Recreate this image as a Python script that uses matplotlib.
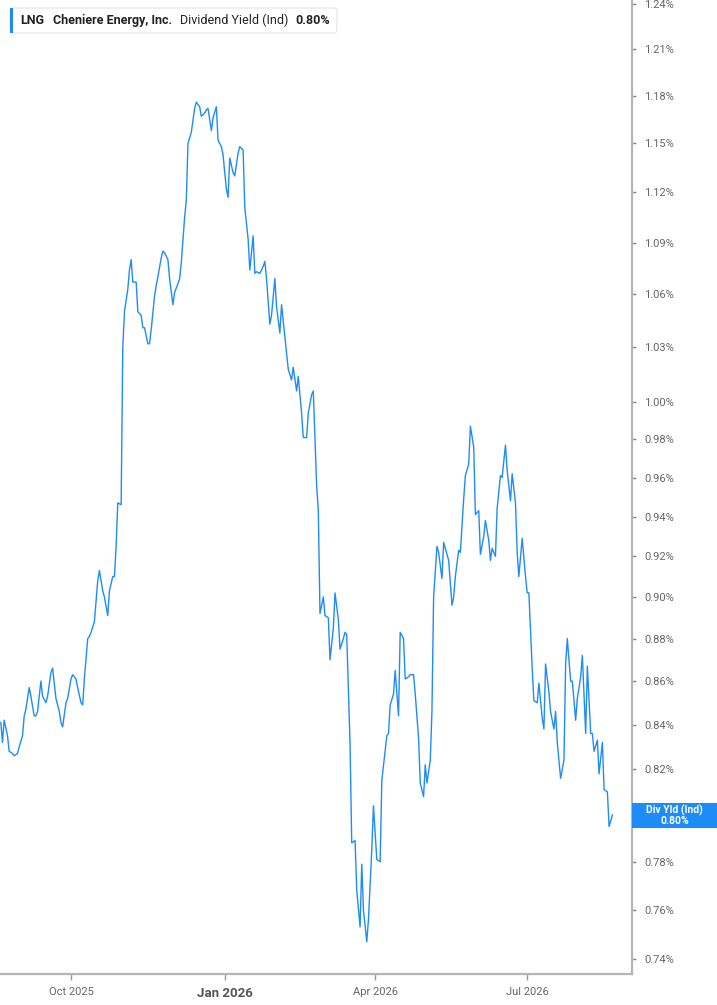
import matplotlib
matplotlib.use("Agg")
import matplotlib.pyplot as plt
from matplotlib.patches import Rectangle, FancyBboxPatch
from matplotlib.ticker import FixedLocator, NullLocator
import pandas as pd

plt.rcParams['font.family'] = ['Roboto', 'DejaVu Sans']

dates = [
 "2025-08-20","2025-08-21","2025-08-22","2025-08-24","2025-08-25","2025-08-27","2025-08-28","2025-08-30","2025-08-31",
 "2025-09-02","2025-09-03","2025-09-04","2025-09-06","2025-09-07","2025-09-09","2025-09-10","2025-09-11","2025-09-13",
 "2025-09-14","2025-09-16","2025-09-17","2025-09-19","2025-09-20","2025-09-22","2025-09-24","2025-09-25","2025-09-26",
 "2025-09-28","2025-09-29",
 "2025-10-01","2025-10-02","2025-10-04","2025-10-05","2025-10-07","2025-10-08","2025-10-09","2025-10-11","2025-10-12",
 "2025-10-13","2025-10-15","2025-10-17","2025-10-18","2025-10-20","2025-10-21","2025-10-23","2025-10-24","2025-10-26",
 "2025-10-27","2025-10-28","2025-10-29","2025-10-31",
 "2025-11-01","2025-11-02","2025-11-04","2025-11-05","2025-11-06","2025-11-07","2025-11-09","2025-11-10","2025-11-12",
 "2025-11-13","2025-11-14","2025-11-16","2025-11-17","2025-11-18","2025-11-20","2025-11-21","2025-11-22","2025-11-24",
 "2025-11-25","2025-11-26","2025-11-28","2025-11-29",
 "2025-12-01","2025-12-02","2025-12-04","2025-12-05","2025-12-06","2025-12-08","2025-12-09","2025-12-10","2025-12-12",
 "2025-12-14","2025-12-15","2025-12-17","2025-12-18","2025-12-20","2025-12-21","2025-12-22","2025-12-24","2025-12-25",
 "2025-12-27","2025-12-28","2025-12-30","2025-12-31",
 "2026-01-01","2026-01-02","2026-01-03","2026-01-04","2026-01-06","2026-01-07","2026-01-09","2026-01-10","2026-01-12",
 "2026-01-13","2026-01-15","2026-01-16","2026-01-18","2026-01-19","2026-01-20","2026-01-22","2026-01-24","2026-01-25",
 "2026-01-26","2026-01-28","2026-01-29","2026-01-31",
 "2026-02-01","2026-02-03","2026-02-04","2026-02-06","2026-02-08","2026-02-10","2026-02-11","2026-02-13","2026-02-14",
 "2026-02-16","2026-02-17","2026-02-19","2026-02-20","2026-02-22","2026-02-23","2026-02-24","2026-02-25","2026-02-26",
 "2026-02-27",
 "2026-03-01","2026-03-02","2026-03-04","2026-03-05","2026-03-07","2026-03-08","2026-03-10","2026-03-11","2026-03-13",
 "2026-03-14","2026-03-15","2026-03-17","2026-03-18","2026-03-20","2026-03-21","2026-03-23","2026-03-24","2026-03-25",
 "2026-03-27","2026-03-28","2026-03-30","2026-03-31",
 "2026-04-02","2026-04-04","2026-04-05","2026-04-08","2026-04-09","2026-04-10","2026-04-12","2026-04-13","2026-04-15",
 "2026-04-16","2026-04-18","2026-04-19","2026-04-21","2026-04-22","2026-04-24","2026-04-25","2026-04-27","2026-04-28",
 "2026-04-30",
 "2026-05-01","2026-05-02","2026-05-04","2026-05-05","2026-05-06","2026-05-08","2026-05-09","2026-05-11","2026-05-12",
 "2026-05-14","2026-05-15","2026-05-17","2026-05-18","2026-05-19","2026-05-21","2026-05-22","2026-05-24","2026-05-25",
 "2026-05-27","2026-05-28","2026-05-30","2026-05-31",
 "2026-06-02","2026-06-03","2026-06-05","2026-06-06","2026-06-08","2026-06-09","2026-06-10","2026-06-12","2026-06-13",
 "2026-06-15","2026-06-16","2026-06-18","2026-06-19","2026-06-21","2026-06-22","2026-06-24","2026-06-25","2026-06-26",
 "2026-06-28","2026-06-30",
 "2026-07-01","2026-07-02","2026-07-04","2026-07-05","2026-07-07","2026-07-08","2026-07-10","2026-07-11","2026-07-12",
 "2026-07-14","2026-07-15","2026-07-17","2026-07-18","2026-07-19","2026-07-21","2026-07-23","2026-07-24","2026-07-25",
 "2026-07-27","2026-07-28","2026-07-30","2026-07-31",
 "2026-08-02","2026-08-03","2026-08-05","2026-08-06","2026-08-08","2026-08-09","2026-08-10","2026-08-12","2026-08-13",
 "2026-08-15","2026-08-16","2026-08-18","2026-08-19","2026-08-21",
]

div_yield = [
 0.841,0.832,0.842,0.835,0.828,0.827,0.826,0.827,0.830,
 0.835,0.844,0.847,0.857,0.853,0.844,0.844,0.846,0.860,
 0.853,0.850,0.853,0.864,0.866,0.852,0.846,0.841,0.839,
 0.850,0.852,
 0.861,0.863,0.861,0.857,0.850,0.849,0.861,0.880,0.881,
 0.883,0.888,0.908,0.913,0.903,0.900,0.891,0.903,0.910,
 0.910,0.925,0.947,0.946,
 1.030,1.050,1.063,1.074,1.080,1.067,1.067,1.050,1.048,
 1.041,1.041,1.032,1.032,1.040,1.059,1.065,1.070,1.081,
 1.085,1.084,1.080,1.069,
 1.054,1.061,1.066,1.069,1.078,1.105,1.115,1.150,1.157,
 1.172,1.176,1.173,1.167,1.169,1.171,1.172,1.158,1.166,
 1.173,1.152,1.148,1.143,
 1.132,1.122,1.117,1.141,1.132,1.130,1.144,1.148,1.146,
 1.111,1.092,1.074,1.094,1.072,1.073,1.072,1.076,1.079,
 1.069,1.043,1.048,1.069,
 1.053,1.038,1.054,1.036,1.018,1.012,1.019,1.006,1.014,
 0.994,0.981,0.981,0.994,1.004,1.006,0.980,0.956,0.943,
 0.892,
 0.900,0.891,0.890,0.870,0.885,0.902,0.889,0.875,0.880,
 0.883,0.882,0.831,0.788,0.789,0.768,0.753,0.779,0.760,
 0.747,0.756,0.785,0.804,
 0.781,0.780,0.815,0.835,0.836,0.849,0.854,0.865,0.844,
 0.883,0.880,0.861,0.862,0.863,0.863,0.854,0.834,0.814,
 0.808,
 0.822,0.814,0.824,0.846,0.900,0.925,0.922,0.909,0.927,
 0.921,0.918,0.896,0.900,0.910,0.923,0.922,0.949,0.961,
 0.967,0.987,0.976,0.941,
 0.943,0.921,0.930,0.938,0.928,0.918,0.924,0.920,0.944,
 0.961,0.960,0.977,0.964,0.948,0.962,0.947,0.922,0.910,
 0.929,0.910,
 0.902,0.902,0.866,0.851,0.850,0.859,0.843,0.838,0.868,
 0.855,0.846,0.838,0.846,0.832,0.816,0.824,0.868,0.880,
 0.860,0.860,0.842,0.852,
 0.862,0.872,0.836,0.867,0.836,0.836,0.828,0.833,0.818,
 0.832,0.811,0.810,0.795,0.800,
]

y_ticks = [0.74, 0.76, 0.78, 0.80, 0.82, 0.84, 0.86, 0.88, 0.90, 0.92, 0.94,
           0.96, 0.98, 1.00, 1.03, 1.06, 1.09, 1.12, 1.15, 1.18, 1.21, 1.24]
x_tick_dates = ["2025-10-01", "2026-01-01", "2026-04-01", "2026-07-01"]
x_tick_labels = ["Oct 2025", "Jan 2026", "Apr 2026", "Jul 2026"]

legend_parts = [("LNG", "bold"), ("Cheniere Energy, Inc.", "semibold"),
                ("Dividend Yield (Ind)", "normal"), ("0.80%", "bold")]
last_value = 0.80
badge_label = "Div Yld (Ind)"

LINE = "#1e8cf7"
W, H = 717, 1005

fig = plt.figure(figsize=(W / 100, H / 100), dpi=100)
ax = fig.add_axes([0, 1 - 974 / H, 632 / W, 974 / H])
ax.plot(pd.to_datetime(dates), div_yield, color=LINE, lw=1.0, solid_joinstyle="round")

ax.set_yscale("log")
ax.set_ylim(0.7341, 1.2427)
base = pd.Timestamp("2025-10-01")
ax.set_xlim(base + pd.Timedelta(days=-42.48), base + pd.Timedelta(days=335.72))

ax.yaxis.tick_right()
ax.yaxis.set_major_locator(FixedLocator(y_ticks))
ax.yaxis.set_minor_locator(NullLocator())
# the tick label at the last value sits under the value badge (hidden, as in the original)
ax.set_yticklabels(["" if abs(v - last_value) < 1e-9 else f"{v:.2f}%" for v in y_ticks])
ax.tick_params(axis="y", direction="out", length=3, width=1, color="#888888",
               pad=6, labelsize=8, labelcolor="#666666")

ax.xaxis.set_major_locator(FixedLocator(pd.to_datetime(x_tick_dates).map(lambda t: matplotlib.dates.date2num(t))))
ax.xaxis.set_minor_locator(NullLocator())
ax.set_xticklabels(x_tick_labels)
ax.tick_params(axis="x", direction="out", length=4, width=1, color="#999999",
               pad=5, labelsize=8, labelcolor="#666666")
for lbl in ax.get_xticklabels():
    if lbl.get_text().startswith("Jan"):
        lbl.set_fontweight("bold")
        lbl.set_fontsize(9.5)
        lbl.set_color("#555555")

for s in ("left", "top"):
    ax.spines[s].set_visible(False)
for s in ("right", "bottom"):
    ax.spines[s].set_color("#b5b5b5")
    ax.spines[s].set_linewidth(1.6)

# legend box
box = FancyBboxPatch((10 / W, 1 - 33 / H), 327 / W, 25 / H,
                     boxstyle="round,pad=0,rounding_size=0.004",
                     transform=fig.transFigure, facecolor="white",
                     edgecolor="#e3e3e3", lw=0.8, zorder=5)
fig.add_artist(box)
fig.add_artist(Rectangle((10 / W, 1 - 33 / H), 3.2 / W, 25 / H, transform=fig.transFigure,
                         facecolor=LINE, edgecolor="none", zorder=6))
x_pos = [20.5, 53.3, 180.3, 295]
for (txt, wt), xp in zip(legend_parts, x_pos):
    fig.text(xp / W, 1 - 20.8 / H, txt, fontsize=9, fontweight=wt, color="#222222",
             va="center", ha="left", zorder=7)

# last value badge
fig.add_artist(Rectangle((632 / W, 1 - 828 / H), (W - 632) / W, 25.5 / H,
                         transform=fig.transFigure, facecolor=LINE,
                         edgecolor="none", zorder=5))
fig.text(674.5 / W, 1 - 815.5 / H, f"{badge_label}\n{last_value:.2f}%", fontsize=7.5,
         fontweight="bold", color="white", ha="center", va="center",
         linespacing=0.95, multialignment="center", zorder=6)

fig.savefig("out.png", dpi=100, facecolor="white")
